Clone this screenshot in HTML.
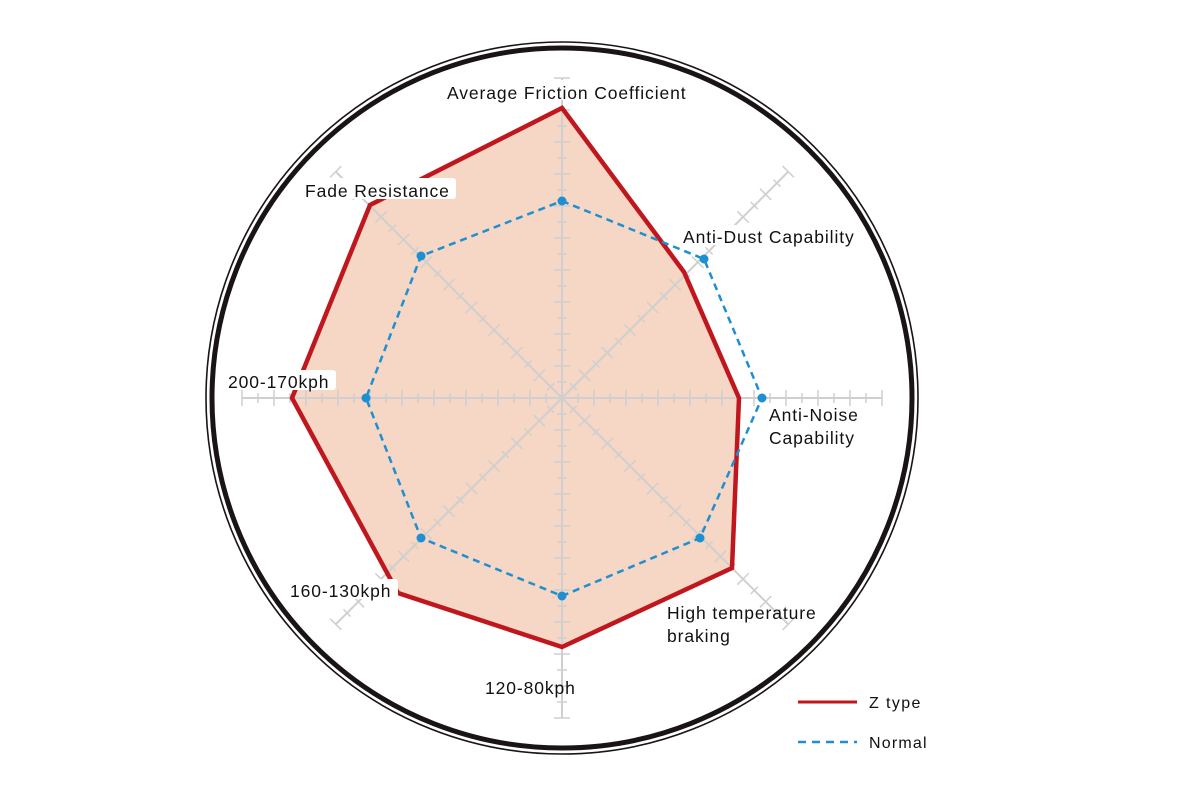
<!DOCTYPE html>
<html><head><meta charset="utf-8"><style>
html,body{margin:0;padding:0;background:#fff;}
svg{display:block}
text{font-family:"Liberation Sans",sans-serif;font-size:17.5px;letter-spacing:0.9px;fill:#111;}
</style></head><body>
<svg id="s" width="1200" height="800" viewBox="0 0 1200 800">
<circle cx="562" cy="398" r="356" fill="none" stroke="#1a1414" stroke-width="1.6"/>
<circle cx="562" cy="398" r="350" fill="none" stroke="#1a1414" stroke-width="5"/>
<polygon points="562,108 684,272 739,398 732,568 562,647 398,593 292,398 370,205" fill="#f6d6c4"/>
<g id="axes" stroke="#cfcfcf" stroke-width="2" fill="none"></g>
<polygon points="562,108 684,272 739,398 732,568 562,647 398,593 292,398 370,205" fill="none" stroke="#c0161e" stroke-width="4.5" stroke-linejoin="miter"/>
<polygon points="562,201 704,259 762,398 700,538 562,596 421,538 366,398 421,256" fill="none" stroke="#1e8fd0" stroke-width="2.5" stroke-dasharray="7,5"/>
<g fill="#1e8fd0">
<circle cx="562" cy="201" r="4.5"/><circle cx="704" cy="259" r="4.5"/><circle cx="762" cy="398" r="4.5"/><circle cx="700" cy="538" r="4.5"/><circle cx="562" cy="596" r="4.5"/><circle cx="421" cy="538" r="4.5"/><circle cx="366" cy="398" r="4.5"/><circle cx="421" cy="256" r="4.5"/>
</g>
<g fill="#fff">
<rect x="444" y="80" width="250" height="20" rx="3"/>
<rect x="302" y="178" width="154" height="21" rx="3"/>
<rect x="680" y="225" width="178" height="20" rx="3"/>
<rect x="225" y="370" width="111" height="20" rx="3"/>
<rect x="287" y="579" width="111" height="20" rx="3"/>
</g>
<text x="447" y="99">Average Friction Coefficient</text>
<text x="305" y="197">Fade Resistance</text>
<text x="683" y="243">Anti-Dust Capability</text>
<text x="228" y="388">200-170kph</text>
<text x="769" y="421">Anti-Noise</text>
<text x="769" y="444">Capability</text>
<text x="667" y="619">High temperature</text>
<text x="667" y="642">braking</text>
<text x="290" y="597">160-130kph</text>
<text x="485" y="694">120-80kph</text>
<line x1="798" y1="702" x2="857" y2="702" stroke="#c0161e" stroke-width="3"/>
<text x="869" y="708" style="font-size:16px;letter-spacing:1.4px">Z type</text>
<line x1="798" y1="742" x2="857" y2="742" stroke="#1e8fd0" stroke-width="2.5" stroke-dasharray="8,6"/>
<text x="869" y="748" style="font-size:16px;letter-spacing:1.2px">Normal</text>
</svg>
<script>
var g=document.getElementById('axes'),cx=562,cy=398,L=320,h='';
for(var k=0;k<8;k++){var a=k*Math.PI/4,dx=Math.cos(a),dy=Math.sin(a),px=-dy,py=dx;
h+='<line x1="'+cx+'" y1="'+cy+'" x2="'+(cx+dx*L)+'" y2="'+(cy+dy*L)+'"/>';
for(var i=1;i<=20;i++){var r=i*16,t=(i%2==0)?8:5,x=cx+dx*r,y=cy+dy*r;
h+='<line x1="'+(x+px*t)+'" y1="'+(y+py*t)+'" x2="'+(x-px*t)+'" y2="'+(y-py*t)+'" stroke-width="1.5"/>';}}
g.innerHTML=h;
</script>
</body></html>
